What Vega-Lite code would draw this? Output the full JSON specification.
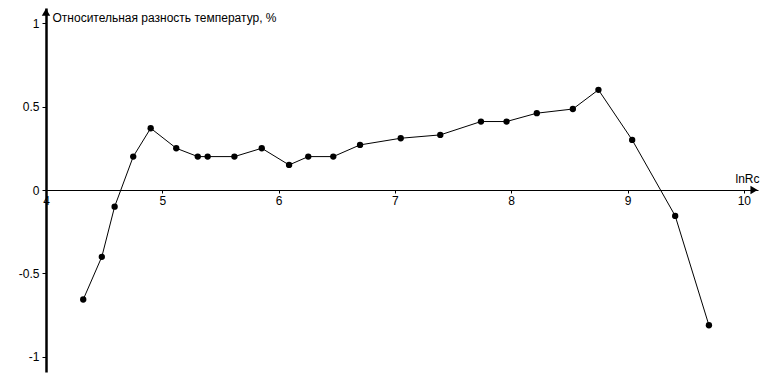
{
  "$schema": "https://vega.github.io/schema/vega-lite/v6.json",
  "width": 712,
  "height": 364,
  "autosize": {"type": "none"},
  "padding": {"left": 46, "top": 8, "right": 23, "bottom": 9},
  "background": "white",
  "config": {
    "view": {"stroke": null},
    "font": "Liberation Sans",
    "axis": {
      "grid": false,
      "labelFont": "Liberation Sans",
      "labelFontSize": 12,
      "labelColor": "black",
      "titleFont": "Liberation Sans",
      "titleFontSize": 12,
      "titleFontWeight": "normal",
      "titleColor": "black",
      "domainColor": "black",
      "tickColor": "black"
    }
  },
  "datasets": {
    "pts": [
      {"lnRc": 4.32, "diff": -0.656},
      {"lnRc": 4.48, "diff": -0.40},
      {"lnRc": 4.59, "diff": -0.10},
      {"lnRc": 4.75, "diff": 0.20},
      {"lnRc": 4.90, "diff": 0.37},
      {"lnRc": 5.12, "diff": 0.25},
      {"lnRc": 5.305, "diff": 0.20},
      {"lnRc": 5.39, "diff": 0.20},
      {"lnRc": 5.62, "diff": 0.20},
      {"lnRc": 5.855, "diff": 0.25},
      {"lnRc": 6.09, "diff": 0.15},
      {"lnRc": 6.255, "diff": 0.20},
      {"lnRc": 6.47, "diff": 0.20},
      {"lnRc": 6.70, "diff": 0.27},
      {"lnRc": 7.05, "diff": 0.31},
      {"lnRc": 7.39, "diff": 0.33},
      {"lnRc": 7.74, "diff": 0.41},
      {"lnRc": 7.96, "diff": 0.41},
      {"lnRc": 8.22, "diff": 0.46},
      {"lnRc": 8.53, "diff": 0.485},
      {"lnRc": 8.75, "diff": 0.60},
      {"lnRc": 9.04, "diff": 0.30},
      {"lnRc": 9.41, "diff": -0.155},
      {"lnRc": 9.70, "diff": -0.81}
    ],
    "arrowUp": [{"lnRc": 4, "diff": 1.066}],
    "arrowRight": [{"lnRc": 10.088, "diff": 0}]
  },
  "layer": [
    {
      "data": {"name": "pts"},
      "mark": {
        "type": "line",
        "color": "black",
        "strokeWidth": 1,
        "point": {"filled": true, "color": "black", "size": 40, "opacity": 1}
      },
      "encoding": {
        "x": {
          "field": "lnRc",
          "type": "quantitative",
          "scale": {"domain": [4, 10.122], "nice": false, "zero": false},
          "axis": {
            "title": "lnRc",
            "values": [4, 5, 6, 7, 8, 9, 10],
            "format": "d",
            "offset": {"expr": "scale('y', 0) - height"},
            "domainWidth": 1,
            "tickSize": 3,
            "labelPadding": 2,
            "labelFlush": false,
            "labelOverlap": false,
            "titleAngle": 0,
            "titleX": 713,
            "titleY": -8,
            "titleAlign": "right",
            "titleBaseline": "alphabetic"
          }
        },
        "y": {
          "field": "diff",
          "type": "quantitative",
          "scale": {"domain": [-1.09, 1.09], "nice": false, "zero": false},
          "axis": {
            "title": "Относительная разность температур, %",
            "values": [-1, -0.5, 0, 0.5, 1],
            "labelExpr": "replace(format(datum.value, '~g'), '−', '-')",
            "domainWidth": 2.5,
            "tickSize": 4,
            "labelPadding": 3,
            "labelFlush": false,
            "titleAngle": 0,
            "titleX": 6,
            "titleY": 13,
            "titleAlign": "left",
            "titleBaseline": "alphabetic"
          }
        }
      }
    },
    {
      "data": {"name": "arrowUp"},
      "mark": {"type": "point", "shape": "triangle-up", "filled": true, "color": "#000000", "opacity": 1, "size": 70},
      "encoding": {
        "x": {"field": "lnRc", "type": "quantitative"},
        "y": {"field": "diff", "type": "quantitative"}
      }
    },
    {
      "data": {"name": "arrowRight"},
      "mark": {"type": "point", "shape": "triangle-right", "filled": true, "color": "#000000", "opacity": 1, "size": 70},
      "encoding": {
        "x": {"field": "lnRc", "type": "quantitative"},
        "y": {"field": "diff", "type": "quantitative"}
      }
    }
  ]
}
